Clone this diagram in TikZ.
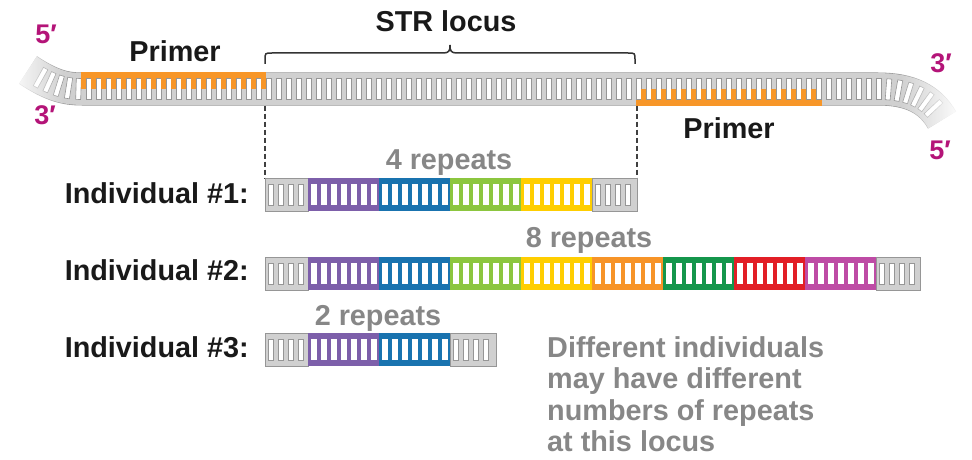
\documentclass[tikz,border=0pt]{standalone}
\usepackage{fontspec}
\setmainfont{Liberation Sans}
\usetikzlibrary{decorations.markings,fadings}

\definecolor{bandfill}{RGB}{208,208,208}
\definecolor{bandedge}{RGB}{150,150,150}
\definecolor{primer}{RGB}{247,150,40}
\definecolor{rpurple}{RGB}{125,95,170}
\definecolor{rblue}{RGB}{25,115,175}
\definecolor{rgreen}{RGB}{140,198,63}
\definecolor{ryellow}{RGB}{255,206,0}
\definecolor{rorange}{RGB}{247,148,40}
\definecolor{rdkgreen}{RGB}{20,150,75}
\definecolor{rred}{RGB}{226,30,38}
\definecolor{rmagenta}{RGB}{190,75,165}
\definecolor{endlabel}{RGB}{180,20,120}
\definecolor{inktext}{RGB}{25,25,25}
\definecolor{softtext}{RGB}{135,135,135}

\tikzfading[name=fadeleft, left color=transparent!0, right color=transparent!100]
\tikzfading[name=faderight, left color=transparent!100, right color=transparent!0]

\tikzset{
  lbl/.style={font=\fontsize{28.8}{31}\selectfont\bfseries, text=inktext, inner sep=0pt},
  replbl/.style={lbl, text=softtext},
  endlbl/.style={font=\fontsize{27}{29}\selectfont\bfseries, text=endlabel, inner sep=0pt},
  flankgap/.style={fill=white, draw=bandedge, line width=0.6pt},
  guide/.style={draw=black!75, line width=1.2pt, dash pattern=on 5pt off 3pt},
  bracepath/.style={draw=black!80, line width=1.5pt},
}

% one coloured repeat: filled block with white slots between the rungs
\newcommand\dnablock[5]{% #1 left x, #2 width, #3 top y, #4 colour, #5 slots
  \fill[#4] (#1,#3) rectangle ({#1+#2},{#3+33});
  \foreach \j in {1,...,#5}
    \fill[white] ({#1+3+10*(\j-1)},{#3+6}) rectangle ({#1+8.5+10*(\j-1)},{#3+27});
}
% grey flanking DNA: outlined ladder
\newcommand\dnaflank[4]{% #1 left x, #2 width, #3 top y, #4 slots
  \filldraw[fill=bandfill, draw=bandedge, line width=0.6pt] (#1,#3) rectangle ({#1+#2},{#3+33});
  \foreach \j in {1,...,#4}
    \filldraw[flankgap] ({#1+3+10*(\j-1)},{#3+6}) rectangle ({#1+8+10*(\j-1)},{#3+27});
}

\begin{document}
\begin{tikzpicture}[x=1pt,y=-1pt]
\useasboundingbox (0,0) rectangle (972,460);

% ---------- template strand ----------
\coordinate (L0) at (28,70);
\coordinate (L1) at (82,89);
\coordinate (R0) at (878,89);
\coordinate (R1) at (942,120);

\draw[bandedge, line width=33pt] (L0) .. controls (52,86) and (66,89) .. (L1) -- (R0) .. controls (910,89) and (930,99) .. (R1);
\draw[bandfill, line width=31.8pt] (L0) .. controls (52,86) and (66,89) .. (L1) -- (R0) .. controls (910,89) and (930,99) .. (R1);

% slots of the straight part
\foreach \k in {0,...,79}
  \filldraw[flankgap] ({86+10*\k},78.5) rectangle ({91+10*\k},99.5);
% slots along the bent ends
\path[decoration={markings, mark=between positions 3.5pt and 0.9 step 10pt with {\filldraw[flankgap] (-2.5,-10.5) rectangle (2.5,10.5);}}, decorate]
  (L1) .. controls (66,89) and (52,86) .. (L0);
\path[decoration={markings, mark=between positions 10.5pt and 0.9 step 10pt with {\filldraw[flankgap] (-2.5,-10.5) rectangle (2.5,10.5);}}, decorate]
  (R0) .. controls (910,89) and (930,99) .. (R1);

% primers
\fill[primer] (81,72.5) rectangle (266,78.5);
\foreach \k in {0,...,18}
  \fill[primer] ({81+10*\k},78.5) rectangle ({86+10*\k},89);
\fill[primer] (636,99.5) rectangle (822,105.5);
\foreach \k in {56,...,73}
  \fill[primer] ({81+10*\k},89) rectangle ({86+10*\k},99.5);

% fading ends
\fill[white, path fading=fadeleft] (8,45) rectangle (64,108);
\fill[white, path fading=faderight] (900,60) rectangle (962,148);

% ---------- STR locus brace and guides ----------
\draw[bracepath] (265,64) -- (265,60) .. controls (265,53) .. (272,53) -- (443,53)
  .. controls (449,53) and (450,51) .. (450,45) .. controls (450,51) and (451,53) .. (457,53)
  -- (628,53) .. controls (635,53) .. (635,60) -- (635,64);

\coordinate (gL0) at (265,105.5);
\coordinate (gL1) at (265,178);
\coordinate (gR0) at (637,105.5);
\coordinate (gR1) at (637,178);
\draw[guide] (gL0) -- (gL1);
\draw[guide] (gR0) -- (gR1);

% ---------- individual #1 ----------
\dnaflank{265}{43}{178}{4}
\dnaflank{592}{45}{178}{4}
\foreach \c [count=\i from 0] in {rpurple,rblue,rgreen,ryellow}
  {\dnablock{308+71*\i}{71}{178}{\c}{7}}

% ---------- individual #2 ----------
\dnaflank{265}{43}{257}{4}
\dnaflank{876}{44}{257}{4}
\foreach \c [count=\i from 0] in {rpurple,rblue,rgreen,ryellow,rorange,rdkgreen,rred,rmagenta}
  {\dnablock{308+71*\i}{71}{257}{\c}{7}}

% ---------- individual #3 ----------
\dnaflank{265}{43}{333}{4}
\dnaflank{450}{46}{333}{4}
\foreach \c [count=\i from 0] in {rpurple,rblue}
  {\dnablock{308+71*\i}{71}{333}{\c}{7}}

% ---------- labels ----------
\node[lbl, anchor=base] (strlbl) at (446,32) {STR locus};
\node[lbl, anchor=base] (primerL) at (175,62) {Primer};
\node[lbl, anchor=base] (primerR) at (729,138) {Primer};

\node[endlbl] (fiveL) at (46,34) {5′};
\node[endlbl] (threeL) at (45,115) {3′};
\node[endlbl] (threeR) at (941,63) {3′};
\node[endlbl] (fiveR) at (940,150) {5′};

\node[replbl, anchor=base] (rep4) at (449,169) {4 repeats};
\node[replbl, anchor=base] (rep8) at (589,247) {8 repeats};
\node[replbl, anchor=base] (rep2) at (378,325) {2 repeats};

\node[lbl, anchor=base east] (ind1) at (249,203) {Individual \#1:};
\node[lbl, anchor=base east] (ind2) at (249,280) {Individual \#2:};
\node[lbl, anchor=base east] (ind3) at (249,357) {Individual \#3:};

\node[replbl, anchor=base west] (note1) at (547,357) {Different individuals};
\node[replbl, anchor=base west] (note2) at (547,388.5) {may have different};
\node[replbl, anchor=base west] (note3) at (547,420) {numbers of repeats};
\node[replbl, anchor=base west] (note4) at (547,451.5) {at this locus};
\end{tikzpicture}
\end{document}
